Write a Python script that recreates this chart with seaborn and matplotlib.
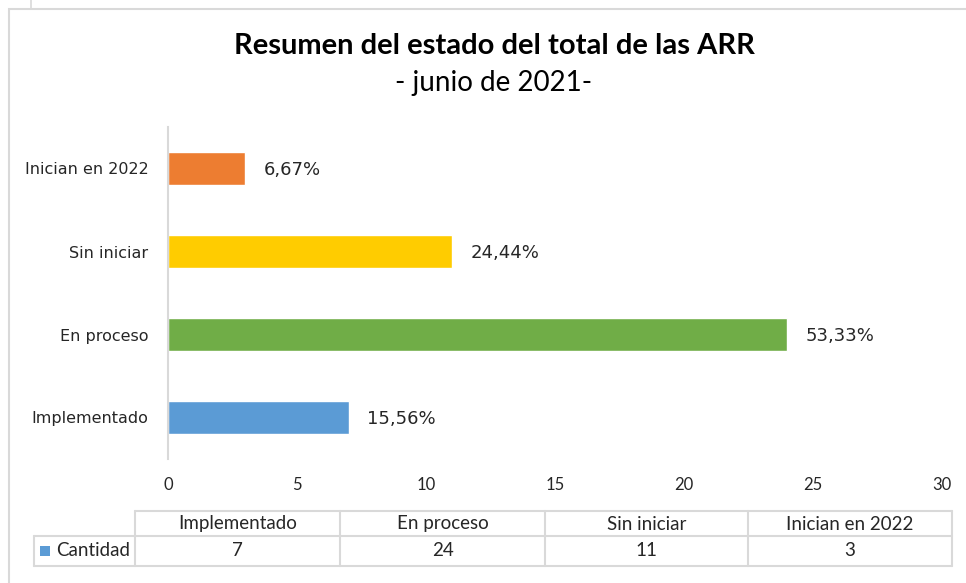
import matplotlib
matplotlib.use("Agg")
import matplotlib.pyplot as plt
import seaborn as sns
import pandas as pd
from matplotlib.patches import Rectangle
from matplotlib.lines import Line2D

# datos
categorias = ['Implementado', 'En proceso', 'Sin iniciar', 'Inician en 2022']
cantidad = [7, 24, 11, 3]
porcentajes = ['15,56%', '53,33%', '24,44%', '6,67%']
colores = ['#5B9BD5', '#70AD47', '#FFCC00', '#ED7D31']
xticks = [0, 5, 10, 15, 20, 25, 30]

sns.set_theme(style='white')
plt.rcParams['font.family'] = ['DejaVu Sans']
texto = '#262626'
gris = '#D9D9D9'

W, H = 966, 583
fig = plt.figure(figsize=(W / 100, H / 100), dpi=100)


def fx(px):
    return px / W


def fy(py):
    return 1 - py / H


# borde del grafico (estilo Excel)
fig.add_artist(Rectangle((fx(9), -0.1), 1.1, fy(9.5) + 0.1, transform=fig.transFigure,
                         fill=False, edgecolor=gris, linewidth=1.5))
fig.add_artist(Line2D([fx(31), fx(31)], [1, fy(8)], transform=fig.transFigure,
                      color=gris, linewidth=1.2))

ax = fig.add_axes([fx(168), fy(459), 774 / W, 332 / H])

df = pd.DataFrame({'categoria': categorias, 'cantidad': cantidad})
orden = categorias[::-1]
sns.barplot(data=df, x='cantidad', y='categoria', order=orden, hue='categoria',
            hue_order=categorias, palette=colores, width=0.4, legend=False,
            saturation=1, ax=ax)

ax.set_xlim(0, 30)
ax.set_ylim(3.5, -0.5)
ax.set_xticks(xticks)
ax.set_xlabel('')
ax.set_ylabel('')
for s in ['top', 'right', 'bottom']:
    ax.spines[s].set_visible(False)
ax.spines['left'].set_color(gris)
ax.spines['left'].set_linewidth(1.5)
ax.tick_params(axis='y', length=0, pad=14, labelsize=11.5, labelcolor=texto)
ax.tick_params(axis='x', length=0, pad=13, labelsize=12, labelcolor=texto)
for lbl in ax.get_xticklabels():
    lbl.set_fontfamily('Lato')

# etiquetas de porcentaje
pct = dict(zip(categorias, porcentajes))
for bar in ax.patches:
    yc = bar.get_y() + bar.get_height() / 2
    cat = orden[int(round(yc))]
    ax.annotate(pct[cat], (bar.get_width(), yc),
                xytext=(13.5, -1), textcoords='offset points', va='center', ha='left',
                fontsize=13, color=texto)

# titulo
fig.text(fx(494), fy(46), 'Resumen del estado del total de las ARR', ha='center',
         va='center', fontsize=21, fontweight='bold', color='black', family='Lato')
fig.text(fx(494), fy(83), '- junio de 2021-', ha='center', va='center',
         fontsize=20, color='black', family='Lato')

# tabla de datos (dibujada a mano, estilo Excel)
col_x = [135, 340, 545, 748, 952]
fila_y = [511, 536, 566]
izq = 34


def linea(xs, ys):
    fig.add_artist(Line2D([fx(v) for v in xs], [fy(v) for v in ys],
                          transform=fig.transFigure, color=gris, linewidth=1.5))


linea([col_x[0], col_x[-1]], [fila_y[0], fila_y[0]])
linea([izq, col_x[-1]], [fila_y[1], fila_y[1]])
linea([izq, col_x[-1]], [fila_y[2], fila_y[2]])
linea([izq, izq], [fila_y[1], fila_y[2]])
for xc in col_x:
    linea([xc, xc], [fila_y[0], fila_y[2]])

for i, (cat, val) in enumerate(zip(categorias, cantidad)):
    xm = (col_x[i] + col_x[i + 1]) / 2
    fig.text(fx(xm), fy(524), cat, ha='center', va='center', fontsize=13.5,
             color=texto, family='Lato')
    fig.text(fx(xm), fy(551), str(val), ha='center', va='center', fontsize=13.5,
             color=texto, family='Lato')

fig.add_artist(Rectangle((fx(40), fy(556)), 10 / W, 10 / H, transform=fig.transFigure,
                         facecolor=colores[0], edgecolor='none'))
fig.text(fx(56), fy(551), 'Cantidad', ha='left', va='center', fontsize=13.5,
         color=texto, family='Lato')

fig.savefig('out.png', dpi=100)
